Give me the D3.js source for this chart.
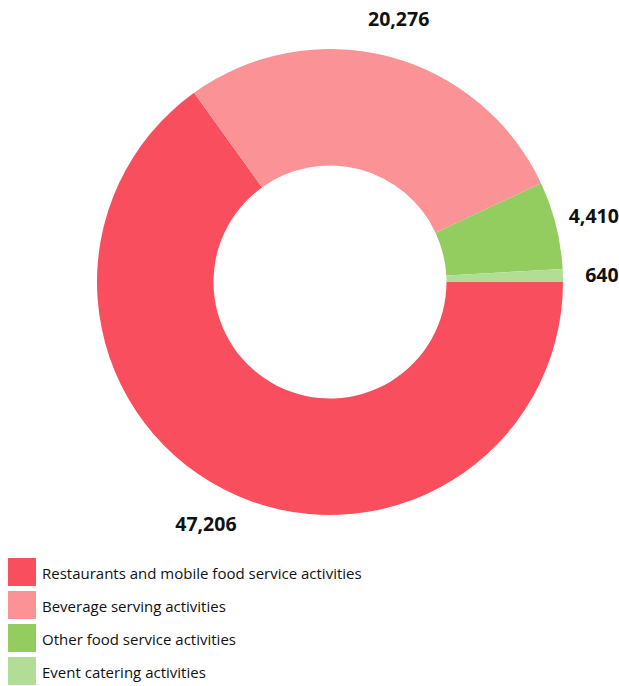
<!DOCTYPE html>
<html><head><meta charset="utf-8">
<script src="https://cdn.jsdelivr.net/npm/d3@7"></script>
<style>body{margin:0;background:#fff}svg{display:block}</style>
</head><body>
<script>
const categories = ["Restaurants and mobile food service activities","Beverage serving activities","Other food service activities","Event catering activities"];
const values = [47206, 20276, 4410, 640];
const colors = ["#f84e5d","#fb9296","#93cc5f","#b1dd96"];

const W = 619, H = 686;
const svg = d3.select("body").append("svg").attr("width", W).attr("height", H);
const cx = 330, cy = 282, R = 233, r = 116.5, labelR = 272;
const data = categories.map((c,i)=>({cat:c, value:values[i], color:colors[i]}));
const pie = d3.pie().value(d=>d.value).sort(null).startAngle(Math.PI/2).endAngle(Math.PI/2 + 2*Math.PI);
const arcs = pie(data);
const arc = d3.arc().innerRadius(r).outerRadius(R);
const labelArc = d3.arc().innerRadius(labelR).outerRadius(labelR);
const g = svg.append("g").attr("transform", `translate(${cx},${cy})`);
g.selectAll("path").data(arcs).join("path").attr("d", arc).attr("fill", d=>d.data.color);
const fmt = d3.format(",");
g.selectAll("text").data(arcs).join("text")
  .attr("transform", d=>`translate(${labelArc.centroid(d)})`)
  .attr("text-anchor","middle").attr("dy","0.37em")
  .attr("font-family","Open Sans, sans-serif").attr("font-weight","bold").attr("font-size",19.5)
  .attr("fill","#111").text(d=>fmt(d.data.value));

const leg = svg.append("g");
const color = d3.scaleOrdinal().domain(categories).range(colors);
const y = d3.scaleBand().domain(categories).range([558, 558 + 33*4]);
const rows = leg.selectAll("g").data(categories).join("g").attr("transform", d=>`translate(8,${y(d)})`);
rows.append("rect").attr("width",28).attr("height",28).attr("fill", d=>color(d));
rows.append("text").attr("x",34).attr("y",21).attr("font-family","Open Sans, sans-serif").attr("font-size",15).attr("fill","#111").text(d=>d);
</script>
</body></html>
